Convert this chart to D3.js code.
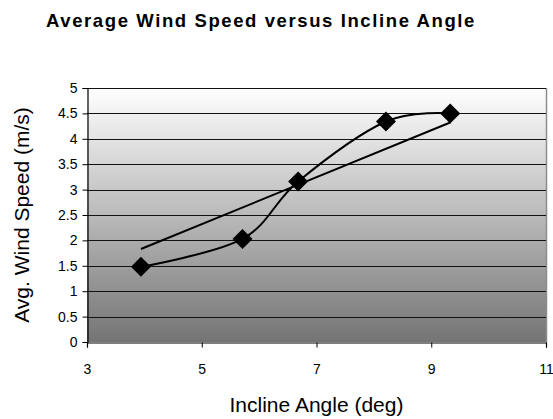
<!DOCTYPE html>
<html>
<head>
<meta charset="utf-8">
<script src="https://cdn.jsdelivr.net/npm/d3@7"></script>
<style>
  html, body { margin: 0; padding: 0; background: #fff; }
  svg { display: block; }
  text { font-family: "Liberation Sans", Arial, sans-serif; fill: #000; }
</style>
</head>
<body>
<svg id="chart" width="553" height="419"></svg>
<script>
// Data
const inclineAngle = [3.94, 5.71, 6.68, 8.21, 9.33];
const windSpeed = [1.48, 2.03, 3.16, 4.34, 4.50];
const trendAngle = [3.94, 9.33];
const trendSpeed = [1.83, 4.32];
const xTicks = [3, 5, 7, 9, 11];
const yTicks = [0, 0.5, 1, 1.5, 2, 2.5, 3, 3.5, 4, 4.5, 5];
const titleText = "Average Wind Speed versus Incline Angle";
const xTitle = "Incline Angle (deg)";
const yTitle = "Avg. Wind Speed (m/s)";

const svg = d3.select("#chart");
const plot = { left: 87, right: 546, top: 88, bottom: 342 };

const x = d3.scaleLinear().domain([3, 11]).range([plot.left, plot.right]);
const y = d3.scaleLinear().domain([0, 5]).range([plot.bottom, plot.top]);

// gradient background
const defs = svg.append("defs");
const grad = defs.append("linearGradient").attr("id", "bg")
  .attr("x1", 0).attr("y1", 0).attr("x2", 0).attr("y2", 1);
grad.append("stop").attr("offset", "0%").attr("stop-color", "#ffffff");
grad.append("stop").attr("offset", "100%").attr("stop-color", "#747474");

svg.append("rect")
  .attr("x", plot.left).attr("y", plot.top)
  .attr("width", plot.right - plot.left).attr("height", plot.bottom - plot.top)
  .attr("fill", "url(#bg)");

// right border
svg.append("line")
  .attr("x1", plot.right + 0.5).attr("x2", plot.right + 0.5)
  .attr("y1", plot.top).attr("y2", plot.bottom)
  .attr("stroke", "#8c8c8c").attr("stroke-width", 1.5);

// gridlines
svg.append("g").selectAll("line").data(yTicks.filter(d => d > 0)).join("line")
  .attr("x1", plot.left).attr("x2", plot.right)
  .attr("y1", d => Math.round(y(d)) + 0.5).attr("y2", d => Math.round(y(d)) + 0.5)
  .attr("stroke", "#111").attr("stroke-width", 1);

// axes
const yAxis = d3.axisLeft(y).tickValues(yTicks).tickSize(5).tickPadding(5)
  .tickFormat(d3.format("~g"));
const gy = svg.append("g").attr("transform", `translate(${plot.left + 0.5},0)`).call(yAxis);
gy.select(".domain").attr("stroke", "#000").attr("stroke-width", 1.2);
gy.selectAll(".tick line").attr("stroke", "#000");
gy.selectAll("text").style("font-size", "14px").style("font-family", "Liberation Sans, Arial, sans-serif");

const xAxis = d3.axisBottom(x).tickValues(xTicks).tickSize(5).tickPadding(17);
const gx = svg.append("g").attr("transform", `translate(0,${plot.bottom + 0.5})`).call(xAxis);
gx.select(".domain").attr("stroke", "#000").attr("stroke-width", 1.2);
gx.selectAll(".tick line").attr("stroke", "#000");
gx.selectAll("text").style("font-size", "14px").style("font-family", "Liberation Sans, Arial, sans-serif");

// trend line
const pts = inclineAngle.map((a, i) => [a, windSpeed[i]]);
const trendPts = trendAngle.map((a, i) => [a, trendSpeed[i]]);
const lineLin = d3.line().x(d => x(d[0])).y(d => y(d[1]));
svg.append("path").attr("d", lineLin(trendPts))
  .attr("fill", "none").attr("stroke", "#000").attr("stroke-width", 2);

// smoothed data line
const lineSmooth = d3.line().x(d => x(d[0])).y(d => y(d[1])).curve(d3.curveCatmullRom.alpha(0));
svg.append("path").attr("d", lineSmooth(pts))
  .attr("fill", "none").attr("stroke", "#000").attr("stroke-width", 2);

// diamond markers
const sq = d3.symbol().type(d3.symbolSquare).size(200);
svg.append("g").selectAll("path").data(pts).join("path")
  .attr("d", sq)
  .attr("transform", d => `translate(${x(d[0])},${y(d[1])}) rotate(45)`)
  .attr("fill", "#000");

// titles
svg.append("text").attr("x", 261).attr("y", 26.5)
  .attr("text-anchor", "middle")
  .style("font-size", "18.5px").style("font-weight", "bold").style("letter-spacing", "1.6px")
  .text(titleText);

svg.append("text").attr("x", (plot.left + plot.right) / 2).attr("y", 412)
  .attr("text-anchor", "middle").style("font-size", "21px")
  .text(xTitle);

svg.append("text")
  .attr("transform", `translate(29,${(plot.top + plot.bottom) / 2}) rotate(-90)`)
  .attr("text-anchor", "middle").style("font-size", "21px")
  .text(yTitle);
</script>
</body>
</html>
